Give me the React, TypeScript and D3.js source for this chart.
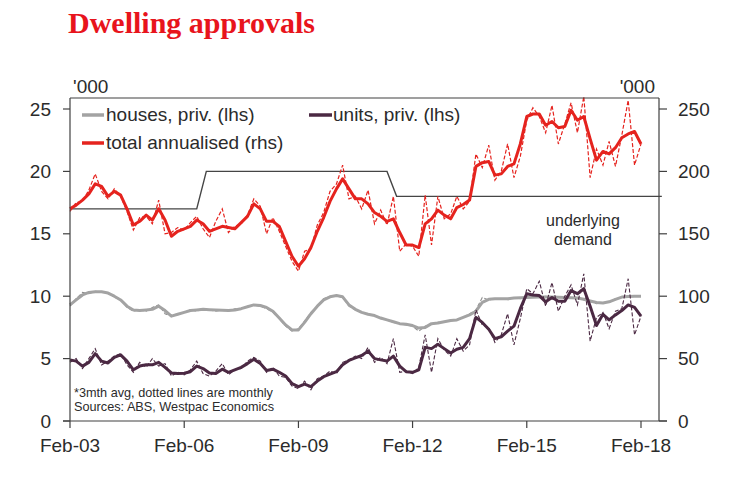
import { useEffect } from "react";
import * as d3 from "d3";

// 2-monthly sample dates, Feb-03 .. Feb-18
const months = d3.timeMonth.range(new Date(2003, 1, 1), new Date(2018, 2, 1), 2);

// total annualised, '000 (rhs) - 3mth avg and monthly
const total = [
  170, 173, 177, 182, 190, 188, 180, 184, 181, 170,
  157, 160, 165, 161, 170, 161, 148, 152, 154, 156,
  161, 158, 152, 154, 156, 155, 154, 159, 164, 174,
  170, 160, 160, 156, 144, 132, 124, 130, 139, 152,
  163, 176, 186, 194, 186, 178, 178, 174, 167, 164,
  160, 162, 151, 141, 141, 139, 158, 162, 169, 165,
  162, 171, 173.5, 177, 204, 207, 208, 197, 198, 204,
  206, 222, 244, 246, 246, 237, 240, 235, 236, 249,
  241, 244, 226, 209, 216, 214, 219, 227, 230, 232,
  222,
];
const totalMonthly = [
  168, 175, 176, 185, 198, 184, 178, 186, 180, 168,
  153, 163, 164, 158, 177, 150, 151, 155, 153, 159,
  164, 154, 147, 160, 170, 151, 156, 158, 165, 178,
  172, 150, 163, 152, 140, 128, 120, 136, 138, 157,
  167, 184, 190, 205, 178, 180, 170, 185, 158, 169,
  157, 180, 136, 142, 140, 132, 181, 141, 180, 162,
  166, 180, 170, 176, 214, 203, 221, 193, 200, 222,
  195, 212, 241, 251, 244, 231, 253, 222, 238, 255,
  231, 260, 195, 218, 205, 224, 204, 229, 257, 205,
  222,
];

// houses, priv. '000 (lhs)
const houses = [
  9.3, 9.7, 10.1, 10.3, 10.35, 10.35, 10.25, 10.0, 9.7, 9.2,
  8.9, 8.85, 8.9, 8.95, 9.2, 8.85, 8.4, 8.55, 8.7, 8.85,
  8.9, 8.95, 8.92, 8.9, 8.87, 8.85, 8.9, 9.0, 9.15, 9.3,
  9.25, 9.1, 8.8, 8.25, 7.7, 7.3, 7.3, 7.9, 8.6, 9.2,
  9.7, 9.95, 10.05, 9.95, 9.3, 8.95, 8.7, 8.55, 8.45, 8.25,
  8.1, 7.95, 7.8, 7.75, 7.65, 7.45, 7.5, 7.8, 7.85, 7.95,
  8.05, 8.1, 8.3, 8.5, 8.8, 9.5, 9.75, 9.8, 9.8, 9.8,
  9.85, 9.87, 9.9, 9.92, 9.93, 9.93, 9.93, 9.92, 9.9, 9.87,
  9.85, 9.75, 9.62, 9.5, 9.45, 9.55, 9.75, 9.93, 9.98, 10.0,
  10.0,
];
const housesMonthly = [
  9.2, 9.8, 10.3, 10.2, 10.4, 10.3, 10.3, 9.9, 9.8, 9.1,
  8.8, 8.9, 8.8, 9.1, 9.3, 8.6, 8.4, 8.6, 8.7, 8.9,
  8.8, 9.0, 8.9, 8.8, 8.9, 8.8, 9.0, 9.0, 9.2, 9.3,
  9.2, 9.0, 8.7, 8.2, 7.6, 7.2, 7.4, 8.0, 8.7, 9.2,
  9.8, 10.0, 10.0, 9.9, 9.2, 8.9, 8.7, 8.5, 8.5, 8.2,
  8.1, 7.9, 7.8, 7.7, 7.6, 7.2, 7.6, 7.8, 7.9, 7.9,
  8.1, 8.1, 8.3, 8.6, 8.9, 9.9, 9.7, 9.8, 9.8, 9.7,
  9.9, 9.8, 10.0, 9.9, 9.9, 10.0, 9.9, 9.9, 9.9, 9.8,
  9.9, 9.7, 9.6, 9.4, 9.5, 9.5, 9.8, 9.9, 10.0, 10.0,
  10.0,
];

// units, priv. '000 (lhs)
const units = [
  4.9, 4.8, 4.4, 4.7, 5.4, 4.8, 4.65, 5.1, 5.3, 4.8,
  4.1, 4.4, 4.5, 4.5, 4.7, 4.3, 3.85, 3.8, 3.83, 3.95,
  4.4, 4.2, 3.85, 3.8, 4.15, 3.9, 4.1, 4.3, 4.6, 4.95,
  4.6, 4.05, 4.15, 3.9, 3.6, 3.0, 2.75, 2.95, 2.75, 3.2,
  3.55, 3.75, 3.95, 4.5, 4.85, 5.05, 5.25, 5.6, 5.0, 4.9,
  4.8, 5.2, 4.4, 3.95, 3.9, 4.1, 5.9, 5.8, 6.15, 5.8,
  5.45, 5.75, 5.9, 6.6, 8.3, 7.9, 7.35, 6.6, 6.75, 7.2,
  7.6, 9.0, 10.2, 10.1, 10.05, 9.55, 9.9, 9.6, 9.6, 10.45,
  10.2, 10.6, 9.2, 7.65, 8.55, 8.1, 8.5, 8.85, 9.3, 9.1,
  8.4,
];
const unitsMonthly = [
  4.7, 5.0, 4.2, 5.0, 5.8, 4.5, 4.8, 5.2, 5.4, 4.5,
  3.9, 4.7, 4.3, 5.0, 4.4, 4.6, 3.6, 3.9, 3.7, 4.1,
  4.8, 3.8, 3.6, 4.0, 4.6, 3.7, 4.1, 4.2, 4.8, 5.1,
  4.8, 3.9, 4.3, 3.6, 3.5, 2.8, 2.6, 3.2, 2.5, 3.4,
  3.6, 4.0, 3.8, 4.7, 4.9, 5.2, 5.0, 5.9, 4.7, 5.1,
  4.6, 6.6, 3.9, 4.0, 3.8, 4.3, 6.9, 3.9, 6.6, 5.7,
  5.2, 6.6, 5.6, 6.1, 8.9, 7.7, 7.5, 6.3, 6.9, 8.6,
  6.1, 8.2, 10.6, 10.2, 11.2, 9.2, 11.1, 8.8, 10.0, 10.9,
  9.3, 11.8, 6.4, 8.3, 8.7, 7.4, 8.8, 9.0, 11.4, 6.9,
  8.4,
];

// underlying demand, '000 (rhs)
const demandDates = [
  new Date(2003, 1, 1), new Date(2006, 5, 1), new Date(2006, 8, 1),
  new Date(2011, 5, 1), new Date(2011, 8, 1), new Date(2018, 7, 20),
];
const demandValues = [170, 170, 200, 200, 180, 180];

const xTicks = [2003, 2006, 2009, 2012, 2015, 2018].map((y) => new Date(y, 1, 1));
const leftTicks = [0, 5, 10, 15, 20, 25];
const rightTicks = [0, 50, 100, 150, 200, 250];

const COLORS = {
  total: "#E5231E",
  houses: "#A3A3A3",
  housesDash: "#8E8E8E",
  units: "#4B2943",
  demand: "#454545",
  axis: "#404040",
  text: "#2B2B2B",
  title: "#E8141C",
};

const FONT = "'Liberation Sans', Arial, sans-serif";
const frame = { left: 70, right: 659, top: 98, bottom: 421 };

export default function App() {
  useEffect(() => {
    document.body.style.margin = "0";
  }, []);

  const x = d3.scaleTime()
    .domain([new Date(2003, 1, 1), new Date(2018, 1, 1)])
    .range([70, 641]);
  const yL = d3.scaleLinear().domain([0, 25]).range([frame.bottom, 109]);
  const yR = d3.scaleLinear().domain([0, 250]).range([frame.bottom, 109]);

  const lineL = d3.line<number>().x((_, i) => x(months[i])).y((d) => yL(d));
  const lineR = d3.line<number>().x((_, i) => x(months[i])).y((d) => yR(d));
  const demandLine = d3.line<number>().x((_, i) => x(demandDates[i])).y((d) => yR(d));

  return (
    <svg width={732} height={479} style={{ display: "block", fontFamily: FONT }}>
      <text x={68} y={33} fontFamily="'Liberation Serif', 'Times New Roman', serif"
        fontWeight="bold" fontSize={30} fill={COLORS.title}>Dwelling approvals</text>

      <text x={73} y={93} fontSize={19} fill={COLORS.text}>'000</text>
      <text x={655} y={93} fontSize={19} fill={COLORS.text} textAnchor="end">'000</text>

      {/* series */}
      <path d={demandLine(demandValues) ?? ""} fill="none" stroke={COLORS.demand} strokeWidth={1.4} />
      <path d={lineL(housesMonthly) ?? ""} fill="none" stroke={COLORS.housesDash} strokeWidth={1.1} strokeDasharray="4,2" />
      <path d={lineL(houses) ?? ""} fill="none" stroke={COLORS.houses} strokeWidth={3} strokeLinejoin="round" />
      <path d={lineL(unitsMonthly) ?? ""} fill="none" stroke={COLORS.units} strokeWidth={1.1} strokeDasharray="4,2" />
      <path d={lineL(units) ?? ""} fill="none" stroke={COLORS.units} strokeWidth={3} strokeLinejoin="round" />
      <path d={lineR(totalMonthly) ?? ""} fill="none" stroke={COLORS.total} strokeWidth={1.2} strokeDasharray="4,2" />
      <path d={lineR(total) ?? ""} fill="none" stroke={COLORS.total} strokeWidth={3} strokeLinejoin="round" />

      {/* frame and axes */}
      <line x1={frame.left} x2={frame.right} y1={frame.top} y2={frame.top} stroke={COLORS.axis} strokeWidth={1.2} />
      <line x1={frame.left} x2={frame.left} y1={frame.top} y2={frame.bottom} stroke={COLORS.axis} strokeWidth={1.2} />
      <line x1={frame.right} x2={frame.right} y1={frame.top} y2={frame.bottom} stroke={COLORS.axis} strokeWidth={1.2} />
      <line x1={63} x2={667} y1={frame.bottom} y2={frame.bottom} stroke={COLORS.axis} strokeWidth={1.2} />

      {leftTicks.map((t) => (
        <g key={`l${t}`}>
          <line x1={63} x2={frame.left} y1={yL(t)} y2={yL(t)} stroke={COLORS.axis} strokeWidth={1.2} />
          <text x={51} y={yL(t)} dy="0.35em" textAnchor="end" fontSize={19} fill={COLORS.text}>{t}</text>
        </g>
      ))}
      {rightTicks.map((t) => (
        <g key={`r${t}`}>
          <line x1={frame.right} x2={667} y1={yR(t)} y2={yR(t)} stroke={COLORS.axis} strokeWidth={1.2} />
          <text x={678} y={yR(t)} dy="0.35em" fontSize={19} fill={COLORS.text}>{t}</text>
        </g>
      ))}
      {xTicks.map((t) => (
        <g key={t.getFullYear()}>
          <line x1={x(t)} x2={x(t)} y1={frame.bottom} y2={frame.bottom + 7} stroke={COLORS.axis} strokeWidth={1.2} />
          <text x={x(t)} y={452} textAnchor="middle" fontSize={19} fill={COLORS.text}>
            {d3.timeFormat("%b-%y")(t)}
          </text>
        </g>
      ))}

      {/* legend */}
      <line x1={82} x2={104} y1={115} y2={115} stroke={COLORS.houses} strokeWidth={3.5} />
      <text x={106} y={121} fontSize={19} fill={COLORS.text}>houses, priv. (lhs)</text>
      <line x1={309} x2={332} y1={115} y2={115} stroke={COLORS.units} strokeWidth={3.5} />
      <text x={333} y={121} fontSize={19} fill={COLORS.text}>units, priv. (lhs)</text>
      <line x1={82} x2={104} y1={143} y2={143} stroke={COLORS.total} strokeWidth={3.5} />
      <text x={106} y={149} fontSize={19} fill={COLORS.text}>total annualised (rhs)</text>

      <text x={583} y={226} textAnchor="middle" fontSize={16} fill={COLORS.text}>underlying</text>
      <text x={583} y={245} textAnchor="middle" fontSize={16} fill={COLORS.text}>demand</text>

      <text x={74} y={397} fontSize={12.7} fill={COLORS.text}>*3mth avg, dotted lines are monthly</text>
      <text x={74} y={411} fontSize={12.7} fill={COLORS.text}>Sources: ABS, Westpac Economics</text>
    </svg>
  );
}
